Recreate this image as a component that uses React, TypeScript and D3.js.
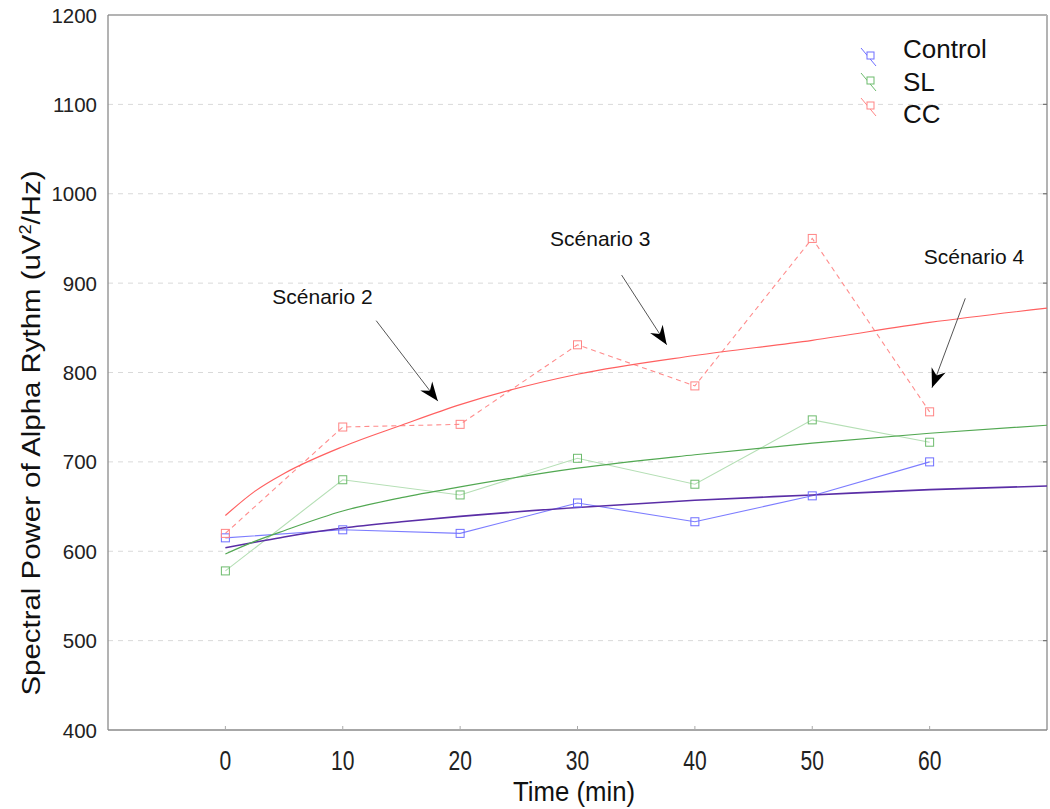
import React from "react";
import * as d3 from "d3";

const times = [0, 10, 20, 30, 40, 50, 60];
const controlValues = [615, 624, 620, 654, 633, 662, 700];
const slValues = [578, 680, 663, 704, 675, 747, 722];
const ccValues = [620, 739, 742, 831, 785, 950, 756];

// trend curves
const fitTimes = [0, 2.5, 5, 10, 15, 20, 30, 40, 50, 60, 70];
const controlFit = [604, 610, 616, 626, 633, 639, 649, 657, 663, 669, 673];
const slFit = [597, 611, 623, 645, 660, 672, 693, 708, 721, 732, 741];
const ccFit = [640, 667, 687, 717, 741, 764, 798, 819, 836, 856, 872];

const yTicks = [400, 500, 600, 700, 800, 900, 1000, 1100, 1200];
const xTicks = [0, 10, 20, 30, 40, 50, 60];
const legendLabels = ["Control", "SL", "CC"];

const annotations = [
  { label: "Scénario 2", tx: 4.0, ty: 877, x1: 12.85, y1: 858, x2: 18.1, y2: 768 },
  { label: "Scénario 3", tx: 27.66, ty: 942, x1: 33.76, y1: 909, x2: 37.6, y2: 831 },
  { label: "Scénario 4", tx: 59.5, ty: 921, x1: 63.04, y1: 883, x2: 60.2, y2: 783 },
];

const W = 1050;
const H = 809;
const L = 108, T = 15, R = 1047, B = 730;
const FONT = "'Liberation Sans', Arial, Helvetica, sans-serif";

export default function App() {
  const x = d3.scaleLinear().domain([-10, 70]).range([L, R]);
  const y = d3.scaleLinear().domain([400, 1200]).range([B, T]);

  const dataLine = d3.line<[number, number]>().x(d => x(d[0])).y(d => y(d[1]));
  const fitLine = d3
    .line<[number, number]>()
    .x(d => x(d[0]))
    .y(d => y(d[1]))
    .curve(d3.curveMonotoneX);

  const zip = (a: number[], b: number[]) => a.map((v, i) => [v, b[i]] as [number, number]);

  const series = [
    { name: legendLabels[0], values: controlValues, fit: controlFit, line: "#7d7dff", marker: "#6f6fff", fitColor: "#5a2ea6", dash: "", fitWidth: 1.6 },
    { name: legendLabels[1], values: slValues, fit: slFit, line: "#b5dfb5", marker: "#6dbb6d", fitColor: "#52a852", dash: "", fitWidth: 1.2 },
    { name: legendLabels[2], values: ccValues, fit: ccFit, line: "#ff8c8c", marker: "#ff8585", fitColor: "#ff6060", dash: "5,4", fitWidth: 1.2 },
  ];

  const ms = 8;

  const arrowHead = (x1: number, y1: number, x2: number, y2: number) => {
    const ang = (Math.atan2(y2 - y1, x2 - x1) * 180) / Math.PI;
    return (
      <path
        d="M0,0 L-19,-7.5 L-13,0 L-19,7.5 Z"
        fill="#000"
        transform={`translate(${x2},${y2}) rotate(${ang})`}
      />
    );
  };

  return (
    <svg
      width={W}
      height={H}
      style={{ position: "absolute", left: 0, top: 0, background: "#fff" }}
      fontFamily={FONT}
    >
      {yTicks.slice(1, -1).map(v => (
        <line key={"g" + v} x1={L} x2={R} y1={y(v)} y2={y(v)} stroke="#d9d9d9" strokeDasharray="5,5" strokeWidth={1} />
      ))}

      <line x1={L} x2={R} y1={T} y2={T} stroke="#b3b3b3" strokeWidth={2} />
      <line x1={R} x2={R} y1={T} y2={B} stroke="#b3b3b3" strokeWidth={2} />
      <line x1={L} x2={L} y1={T} y2={B} stroke="#8a8a8a" strokeWidth={1.3} />
      <line x1={L} x2={R} y1={B} y2={B} stroke="#8a8a8a" strokeWidth={1.3} />

      {yTicks.slice(1, -1).map(v => (
        <line key={"rt" + v} x1={R - 4} x2={R} y1={y(v)} y2={y(v)} stroke="#777" strokeWidth={1.3} />
      ))}
      {xTicks.map(t => (
        <line key={"bt" + t} x1={x(t)} x2={x(t)} y1={B} y2={B - 4} stroke="#aaa" strokeWidth={1} />
      ))}

      {yTicks.map(v => (
        <text key={"yl" + v} x={97} y={y(v) + 7.5} textAnchor="end" fontSize={20.5} fill="#222">
          {v}
        </text>
      ))}
      {xTicks.map(t => (
        <text
          key={"xl" + t}
          transform={`translate(${x(t)},770) scale(0.78,1)`}
          textAnchor="middle"
          fontSize={27}
          fill="#222"
        >
          {t}
        </text>
      ))}

      <text transform={`translate(574,801) scale(0.92,1)`} textAnchor="middle" fontSize={28} fill="#111">
        Time (min)
      </text>
      <text
        transform={`translate(40,433) rotate(-90)`}
        textAnchor="middle"
        fontSize={26}
        fill="#111"
        textLength={525}
        lengthAdjust="spacingAndGlyphs"
      >
        Spectral Power of Alpha Rythm (uV<tspan dy={-9} fontSize={16}>2</tspan>
        <tspan dy={9}>/Hz)</tspan>
      </text>

      {series.map(s => (
        <path
          key={"dl" + s.name}
          d={dataLine(zip(times, s.values)) || ""}
          fill="none"
          stroke={s.line}
          strokeWidth={1.1}
          strokeDasharray={s.dash}
        />
      ))}
      {series.map(s => (
        <path
          key={"fl" + s.name}
          d={fitLine(zip(fitTimes, s.fit)) || ""}
          fill="none"
          stroke={s.fitColor}
          strokeWidth={s.fitWidth}
        />
      ))}
      {series.map(s =>
        s.values.map((v, i) => (
          <rect
            key={"m" + s.name + i}
            x={x(times[i]) - ms / 2}
            y={y(v) - ms / 2}
            width={ms}
            height={ms}
            fill="none"
            stroke={s.marker}
            strokeWidth={1}
          />
        ))
      )}

      {annotations.map(a => (
        <g key={a.label}>
          <text x={x(a.tx)} y={y(a.ty)} fontSize={21} fill="#111">
            {a.label}
          </text>
          <line x1={x(a.x1)} y1={y(a.y1)} x2={x(a.x2)} y2={y(a.y2)} stroke="#555" strokeWidth={1} />
          {arrowHead(x(a.x1), y(a.y1), x(a.x2), y(a.y2))}
        </g>
      ))}

      {series.map((s, i) => {
        const my = 56 + i * 25;
        const ty = 58 + i * 32.5;
        return (
          <g key={"lg" + s.name}>
            <line x1={861} y1={my - 8} x2={876} y2={my + 10} stroke={s.marker} strokeWidth={1} />
            <rect x={867} y={my - 4} width={7} height={7} fill="#fff" stroke={s.marker} strokeWidth={1} />
            <text x={903} y={ty} fontSize={26} fill="#111">
              {s.name}
            </text>
          </g>
        );
      })}
    </svg>
  );
}
